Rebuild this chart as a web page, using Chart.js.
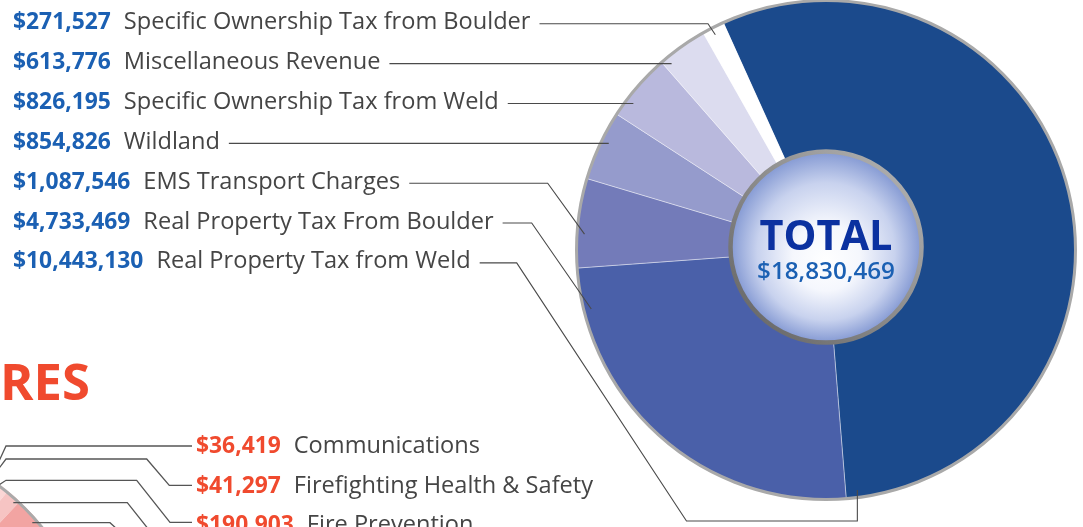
<!DOCTYPE html>
<html>
<head>
<meta charset="utf-8">
<script src="https://cdn.jsdelivr.net/npm/chart.js@4.4.0/dist/chart.umd.min.js"></script>
<style>
html,body{margin:0;padding:0;background:#ffffff;overflow:hidden;width:1083px;height:527px;}
#wrap{position:relative;width:1083px;height:527px;overflow:hidden;}
#exp{position:absolute;left:-401px;top:434px;}
#rev{position:absolute;left:0;top:0;}
</style>
</head>
<body>
<div id="wrap">
<canvas id="exp" width="500" height="500"></canvas>
<canvas id="rev" width="1083" height="527"></canvas>
</div>
<script>
// ---------------- DATA ----------------
const revenueCategories = [
  'Specific Ownership Tax from Boulder',
  'Miscellaneous Revenue',
  'Specific Ownership Tax from Weld',
  'Wildland',
  'EMS Transport Charges',
  'Real Property Tax From Boulder',
  'Real Property Tax from Weld'
];
const revenueValues = [271527, 613776, 826195, 854826, 1087546, 4733469, 10443130];
const revenueColors = ['#ffffff', '#dcdcef', '#b9b9dd', '#959bcc', '#737bb9', '#4a60a9', '#1b4a8c'];
const centerTitle = 'TOTAL';

const expenditureHeading = 'RES';
const expenditureCategories = ['Communications', 'Firefighting Health & Safety', 'Fire Prevention', '', '', ''];
// first three read from the labels; the rest are estimates for slices whose labels are off the page
const expenditureValues = [36419, 41297, 190903, 180000, 900000, 16651381];
const expenditureColors = ['#fde9e9', '#fce1e0', '#fad6d5', '#f6c4c3', '#f2a4a2', '#ee8c89'];
const expenditureLabelled = 3;

// ---------------- LAYOUT / STYLE ----------------
const FONT = "'Open Sans', 'Noto Sans', sans-serif";
const fmt = v => '$' + v.toLocaleString('en-US');
function fit(ctx, text, weight, target) {
  ctx.font = weight + ' 100px ' + FONT;
  return 100 * target / ctx.measureText(text).width;
}
const ROW0 = 29.3, STEP = 39.85, LX = 13, GAP = 13, RHO = 0.97;
const leaders = [
  {bendX: 708, f: 0.44},
  {h: true},
  {h: true},
  {h: true},
  {bendX: 547.7, f: 0.38},
  {bendX: 531.7, f: 0.89},
  {bendX: 516.7, f: 0.986, dropY: 521, slope: 1.52}
];
const expLeaders = [
  [[-12, 485], [6, 446], [192, 446]],
  [[-12, 483], [6, 459], [146.7, 459], [169.3, 485.3], [192, 485.3]],
  [[-10, 491], [6, 480.3], [136.7, 480.3], [170, 522.3], [192, 522.3]],
  [[13.3, 502.7], [127.3, 502.7], [165, 550]],
  [[32.3, 522.7], [110, 522.7], [140, 550]]
];

function poly(ctx, pts) {
  ctx.beginPath();
  ctx.moveTo(pts[0][0], pts[0][1]);
  for (let k = 1; k < pts.length; k++) ctx.lineTo(pts[k][0], pts[k][1]);
  ctx.stroke();
}

// ---------------- EXPENDITURE PIE (mostly off page) ----------------
const expRing = {
  id: 'expRing',
  afterDatasetsDraw(chart) {
    const ctx = chart.ctx;
    const p = chart.getDatasetMeta(0).data[0].getProps(['x', 'y', 'outerRadius'], true);
    ctx.save();
    ctx.beginPath();
    ctx.arc(p.x, p.y, p.outerRadius - 1.5, 0, Math.PI * 2);
    ctx.lineWidth = 3;
    ctx.strokeStyle = '#aaaaaa';
    ctx.stroke();
    ctx.restore();
  }
};
new Chart(document.getElementById('exp'), {
  type: 'pie',
  data: {
    labels: expenditureCategories,
    datasets: [{data: expenditureValues, backgroundColor: expenditureColors, borderWidth: 0}]
  },
  options: {
    responsive: false, animation: false, rotation: 34.1,
    plugins: {legend: {display: false}, tooltip: {enabled: false}},
    layout: {padding: 0}
  },
  plugins: [expRing]
});

// ---------------- REVENUE PIE ----------------
const n = revenueValues.length;
const chartValues = revenueValues.slice().reverse();
const chartColors = revenueColors.slice().reverse();
const chartLabels = revenueCategories.slice().reverse();
const total = revenueValues.reduce((a, b) => a + b, 0);

const revDecor = {
  id: 'revDecor',
  afterDatasetsDraw(chart) {
    const ctx = chart.ctx;
    const meta = chart.getDatasetMeta(0);
    const c = meta.data[0].getProps(['x', 'y', 'outerRadius'], true);
    const cx = c.x, cy = c.y, R = c.outerRadius;
    ctx.save();
    // outer grey rim
    ctx.beginPath();
    ctx.arc(cx, cy, R, 0, Math.PI * 2);
    ctx.lineWidth = 3;
    ctx.strokeStyle = '#a9a9a9';
    ctx.stroke();

    // centre disc
    const ix = cx, iy = cy - 3, ir = 95.5;
    const g = ctx.createRadialGradient(ix, iy + 16, 0, ix, iy, ir);
    g.addColorStop(0, '#ffffff');
    g.addColorStop(0.35, '#f5f7fd');
    g.addColorStop(0.72, '#c8d2ee');
    g.addColorStop(1, '#8499d3');
    ctx.beginPath();
    ctx.arc(ix, iy, ir, 0, Math.PI * 2);
    ctx.fillStyle = g;
    ctx.fill();
    const lg = ctx.createLinearGradient(ix - 70, iy + 70, ix + 70, iy - 70);
    lg.addColorStop(0, '#6c6c6c');
    lg.addColorStop(1, '#ababab');
    ctx.lineWidth = 4.5;
    ctx.strokeStyle = lg;
    ctx.stroke();

    ctx.textAlign = 'center';
    ctx.textBaseline = 'alphabetic';
    ctx.fillStyle = '#0b31a0';
    ctx.font = '700 ' + fit(ctx, centerTitle, 700, 133) + 'px ' + FONT;
    ctx.fillText(centerTitle, ix, cy);
    ctx.fillStyle = '#1b60b3';
    ctx.font = '600 ' + fit(ctx, fmt(total), 600, 138) + 'px ' + FONT;
    ctx.fillText(fmt(total), ix, cy + 29);

    // revenue labels + leaders
    ctx.textAlign = 'left';
    const valSize = (fit(ctx, fmt(revenueValues[0]), 700, 96) + fit(ctx, fmt(revenueValues[n - 1]), 700, 133)) / 2;
    const labSize = fit(ctx, revenueCategories[0], 400, 407);
    ctx.strokeStyle = '#4a4a4a';
    ctx.lineWidth = 1.1;
    revenueCategories.forEach((cat, i) => {
      const base = ROW0 + STEP * i;
      const vt = fmt(revenueValues[i]);
      ctx.font = '700 ' + valSize + 'px ' + FONT;
      ctx.fillStyle = '#1b60b3';
      ctx.fillText(vt, LX, base);
      const vw = ctx.measureText(vt).width;
      ctx.font = '400 ' + labSize + 'px ' + FONT;
      ctx.fillStyle = '#454545';
      const lx = LX + vw + GAP;
      ctx.fillText(cat, lx, base);
      const lw = ctx.measureText(cat).width;

      const ly = base - 5.5;
      const pts = [[lx + lw + 9, ly]];
      const L = leaders[i];
      const arc = meta.data[n - 1 - i].getProps(['startAngle', 'endAngle'], true);
      const rr = RHO * R;
      if (L.h) {
        pts.push([cx - Math.sqrt(rr * rr - (ly - cy) * (ly - cy)), ly]);
      } else {
        const ang = arc.startAngle + L.f * (arc.endAngle - arc.startAngle);
        const ax = cx + rr * Math.cos(ang), ay = cy + rr * Math.sin(ang);
        pts.push([L.bendX, ly]);
        if (L.dropY) {
          pts.push([L.bendX + (L.dropY - ly) / L.slope, L.dropY]);
          pts.push([ax, L.dropY]);
        }
        pts.push([ax, ay]);
      }
      poly(ctx, pts);
    });

    // expenditure section (partially visible)
    ctx.fillStyle = '#f04a2e';
    ctx.font = '700 ' + fit(ctx, expenditureHeading, 700, 90) + 'px ' + FONT;
    ctx.fillText(expenditureHeading, 0, 400);

    ctx.strokeStyle = '#555555';
    ctx.lineWidth = 1.3;
    expLeaders.forEach(p => poly(ctx, p));

    const eBase = [453.3, 492.7, 532.1];
    for (let i = 0; i < expenditureLabelled; i++) {
      const vt = fmt(expenditureValues[i]);
      ctx.font = '700 ' + valSize + 'px ' + FONT;
      ctx.fillStyle = '#f04a2e';
      ctx.fillText(vt, 196, eBase[i]);
      const vw = ctx.measureText(vt).width;
      ctx.font = '400 ' + labSize + 'px ' + FONT;
      ctx.fillStyle = '#454545';
      ctx.fillText(expenditureCategories[i], 196 + vw + GAP, eBase[i]);
    }
    ctx.restore();
  }
};

new Chart(document.getElementById('rev'), {
  type: 'pie',
  data: {
    labels: chartLabels,
    datasets: [{
      data: chartValues,
      backgroundColor: chartColors,
      borderColor: 'rgba(255,255,255,0.4)',
      borderWidth: 1
    }]
  },
  options: {
    responsive: false,
    animation: false,
    rotation: -24.3,
    layout: {padding: {left: 576, right: 7, top: 0, bottom: 27}},
    plugins: {legend: {display: false}, tooltip: {enabled: false}}
  },
  plugins: [revDecor]
});
</script>
</body>
</html>
